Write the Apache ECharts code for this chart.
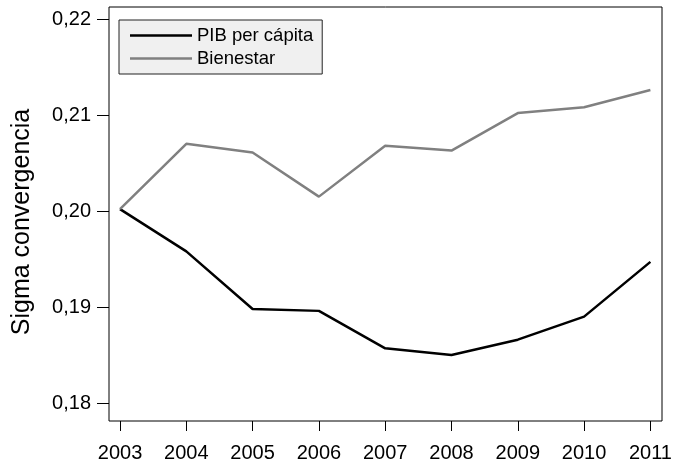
<!DOCTYPE html>
<html>
<head>
<meta charset="utf-8">
<script src="https://cdn.jsdelivr.net/npm/echarts@6/dist/echarts.min.js"></script>
<style>
  html, body { margin: 0; padding: 0; background: #fff; }
  #chart { width: 676px; height: 463px; }
</style>
</head>
<body>
<div id="chart"></div>
<script>
// Years on the horizontal axis
const years = [2003, 2004, 2005, 2006, 2007, 2008, 2009, 2010, 2011];
// Sigma convergence, GDP per capita
const pibPerCapita = [0.2002, 0.1958, 0.1898, 0.1896, 0.1857, 0.1850, 0.1866, 0.1890, 0.1947];
// Sigma convergence, well-being index
const bienestar = [0.2002, 0.2070, 0.2061, 0.2015, 0.2068, 0.2063, 0.2102, 0.2108, 0.2126];
// Y-axis tick positions
const yTicks = [0.18, 0.19, 0.20, 0.21, 0.22];

const FONT = '"Liberation Sans", Arial, Helvetica, sans-serif';
const pairs = (xs, ys) => xs.map((x, i) => [x, ys[i]]);
const comma = v => v.toFixed(2).replace('.', ',');

const chart = echarts.init(document.getElementById('chart'), null, { renderer: 'canvas' });
chart.setOption({
  animation: false,
  backgroundColor: '#ffffff',
  grid: {
    left: 109, right: 14, top: 7, bottom: 42,
    show: true, borderColor: '#000', borderWidth: 1, backgroundColor: 'transparent'
  },
  legend: {
    orient: 'vertical',
    left: 119, top: 20,
    padding: [4, 9, 4, 11],
    backgroundColor: '#f0f0f0',
    borderColor: '#222', borderWidth: 1, borderRadius: 0,
    icon: 'rect',
    itemWidth: 62, itemHeight: 2.5, itemGap: 0,
    textStyle: { fontFamily: FONT, fontSize: 18.5, color: '#000', lineHeight: 23 },
    data: ['PIB per cápita', 'Bienestar']
  },
  xAxis: {
    type: 'value',
    min: 2002.834, max: 2011.175,
    splitLine: { show: false },
    axisLine: { show: false },
    axisTick: { show: true, length: 10, lineStyle: { color: '#000', width: 1 }, customValues: years },
    axisLabel: { fontFamily: FONT, fontSize: 20, color: '#000', margin: 22, customValues: years, formatter: v => String(v) }
  },
  yAxis: {
    type: 'value',
    min: 0.17813, max: 0.22125,
    name: 'Sigma convergencia',
    nameLocation: 'middle',
    nameGap: 74,
    nameTextStyle: { fontFamily: FONT, fontSize: 25, color: '#000', padding: [0, 16, 0, 0] },
    splitLine: { show: false },
    axisLine: { show: false },
    axisTick: { show: true, length: 12, lineStyle: { color: '#000', width: 1 }, customValues: yTicks },
    axisLabel: { fontFamily: FONT, fontSize: 20, color: '#000', margin: 18, customValues: yTicks, formatter: v => comma(v) }
  },
  series: [
    {
      name: 'PIB per cápita', type: 'line', symbol: 'none',
      data: pairs(years, pibPerCapita),
      lineStyle: { color: '#000', width: 2.5 }, itemStyle: { color: '#000' }
    },
    {
      name: 'Bienestar', type: 'line', symbol: 'none',
      data: pairs(years, bienestar),
      lineStyle: { color: '#808080', width: 2.5 }, itemStyle: { color: '#808080' }
    }
  ]
});
</script>
</body>
</html>
